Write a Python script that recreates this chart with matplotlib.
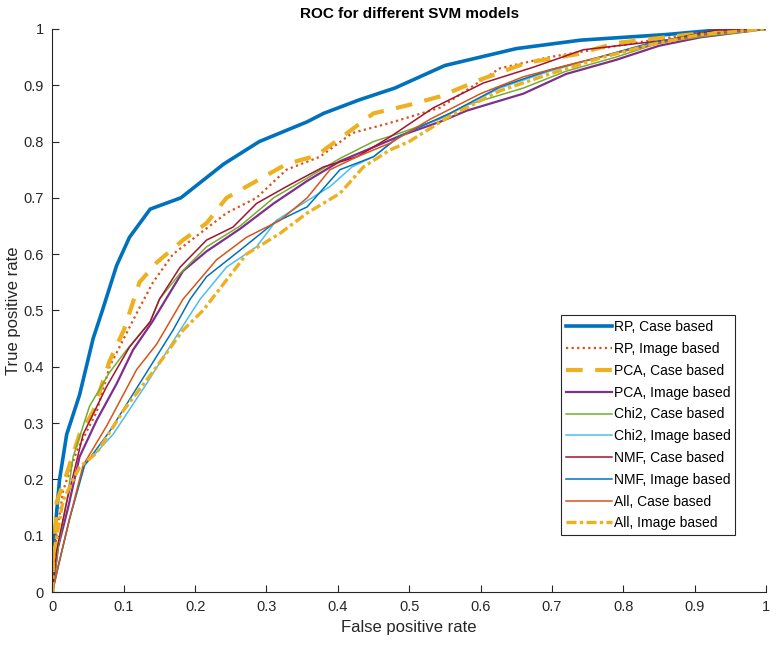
import numpy as np
import matplotlib
matplotlib.use('Agg')
from matplotlib import pyplot as plt

plt.rcParams['font.family'] = ['Liberation Sans', 'DejaVu Sans']

# ROC points (x = FPR, y = TPR)
rp_case_x = [0, 0.003, 0.01, 0.02, 0.038, 0.057, 0.07, 0.09, 0.108, 0.137, 0.18, 0.2, 0.24, 0.29, 0.357, 0.38, 0.43, 0.48, 0.55, 0.65, 0.74, 0.86, 0.95, 1.0]
rp_case_y = [0, 0.1, 0.2, 0.28, 0.35, 0.45, 0.5, 0.58, 0.63, 0.68, 0.70, 0.72, 0.76, 0.80, 0.835, 0.85, 0.874, 0.895, 0.935, 0.965, 0.98, 0.99, 1.0, 1.0]

rp_img_x = [0, 0.003, 0.015, 0.034, 0.062, 0.08, 0.1, 0.12, 0.141, 0.169, 0.207, 0.244, 0.286, 0.328, 0.375, 0.42, 0.473, 0.543, 0.627, 0.697, 0.815, 0.908, 1]
rp_img_y = [0, 0.075, 0.18, 0.25, 0.32, 0.40, 0.45, 0.50, 0.55, 0.60, 0.637, 0.673, 0.70, 0.75, 0.773, 0.815, 0.833, 0.86, 0.93, 0.95, 0.975, 0.993, 1]

pca_case_x = [0, 0.006, 0.02, 0.038, 0.057, 0.08, 0.1, 0.122, 0.146, 0.183, 0.216, 0.244, 0.286, 0.328, 0.37, 0.413, 0.45, 0.5, 0.543, 0.6, 0.665, 0.735, 0.79, 0.894, 1]
pca_case_y = [0, 0.16, 0.21, 0.28, 0.32, 0.41, 0.465, 0.55, 0.585, 0.625, 0.655, 0.70, 0.73, 0.76, 0.775, 0.815, 0.85, 0.865, 0.88, 0.91, 0.94, 0.955, 0.975, 0.99, 1]

pca_img_x = [0, 0.008, 0.022, 0.038, 0.062, 0.09, 0.113, 0.14, 0.183, 0.216, 0.263, 0.31, 0.357, 0.403, 0.45, 0.487, 0.543, 0.581, 0.66, 0.72, 0.79, 0.85, 0.908, 1]
pca_img_y = [0, 0.08, 0.15, 0.24, 0.305, 0.37, 0.43, 0.48, 0.57, 0.605, 0.645, 0.69, 0.73, 0.765, 0.79, 0.81, 0.835, 0.855, 0.885, 0.92, 0.945, 0.97, 0.985, 1]

chi2_case_x = [0, 0.008, 0.02, 0.029, 0.052, 0.08, 0.104, 0.137, 0.15, 0.179, 0.216, 0.263, 0.31, 0.357, 0.403, 0.45, 0.487, 0.543, 0.581, 0.66, 0.72, 0.79, 0.85, 0.908, 1]
chi2_case_y = [0, 0.08, 0.16, 0.24, 0.33, 0.39, 0.43, 0.48, 0.52, 0.566, 0.613, 0.65, 0.70, 0.735, 0.77, 0.80, 0.815, 0.84, 0.865, 0.895, 0.925, 0.95, 0.975, 0.986, 1]

chi2_img_x = [0, 0.008, 0.024, 0.045, 0.085, 0.132, 0.179, 0.207, 0.244, 0.286, 0.314, 0.351, 0.389, 0.42, 0.45, 0.487, 0.557, 0.627, 0.697, 0.767, 0.838, 0.908, 1]
chi2_img_y = [0, 0.045, 0.13, 0.225, 0.28, 0.37, 0.465, 0.52, 0.577, 0.613, 0.66, 0.69, 0.72, 0.755, 0.773, 0.81, 0.85, 0.895, 0.925, 0.95, 0.975, 0.99, 1]

nmf_case_x = [0, 0.006, 0.02, 0.043, 0.076, 0.108, 0.137, 0.15, 0.179, 0.216, 0.253, 0.286, 0.328, 0.38, 0.427, 0.473, 0.534, 0.604, 0.674, 0.744, 0.86, 0.93, 1]
nmf_case_y = [0, 0.075, 0.16, 0.28, 0.365, 0.435, 0.48, 0.52, 0.577, 0.625, 0.648, 0.69, 0.72, 0.755, 0.773, 0.808, 0.86, 0.904, 0.932, 0.963, 0.98, 0.998, 1]

nmf_img_x = [0, 0.008, 0.024, 0.045, 0.08, 0.127, 0.169, 0.193, 0.216, 0.263, 0.31, 0.357, 0.403, 0.45, 0.487, 0.557, 0.627, 0.697, 0.767, 0.838, 0.908, 1]
nmf_img_y = [0, 0.045, 0.13, 0.225, 0.285, 0.38, 0.465, 0.52, 0.56, 0.607, 0.655, 0.684, 0.75, 0.773, 0.81, 0.85, 0.897, 0.927, 0.95, 0.975, 0.99, 1]

all_case_x = [0, 0.008, 0.024, 0.043, 0.076, 0.118, 0.146, 0.183, 0.23, 0.272, 0.319, 0.357, 0.389, 0.427, 0.473, 0.53, 0.6, 0.66, 0.72, 0.8, 0.87, 0.93, 1]
all_case_y = [0, 0.045, 0.13, 0.225, 0.295, 0.395, 0.44, 0.52, 0.59, 0.63, 0.66, 0.70, 0.75, 0.773, 0.797, 0.84, 0.885, 0.915, 0.935, 0.96, 0.98, 0.993, 1]

all_img_x = [0, 0.002, 0.015, 0.038, 0.062, 0.1, 0.146, 0.183, 0.211, 0.272, 0.319, 0.357, 0.403, 0.436, 0.473, 0.5, 0.557, 0.627, 0.697, 0.767, 0.838, 0.908, 1]
all_img_y = [0, 0.07, 0.163, 0.222, 0.247, 0.323, 0.40, 0.465, 0.50, 0.60, 0.637, 0.673, 0.708, 0.755, 0.785, 0.80, 0.845, 0.89, 0.92, 0.948, 0.972, 0.99, 1]

tick_vals = [0, 0.1, 0.2, 0.3, 0.4, 0.5, 0.6, 0.7, 0.8, 0.9, 1]
tick_labels = ['0', '0.1', '0.2', '0.3', '0.4', '0.5', '0.6', '0.7', '0.8', '0.9', '1']

# matlab default colours
azul = (0, 0.447, 0.741)
rojo = (0.85, 0.325, 0.098)
amarillo = (0.929, 0.694, 0.125)
morado = (0.494, 0.184, 0.556)
verde = (0.466, 0.674, 0.188)
celeste = (0.301, 0.745, 0.933)
granate = (0.635, 0.078, 0.184)
gris = (0.15, 0.15, 0.15)

fig = plt.figure(figsize=(7.71, 6.51), dpi=100)
ax = fig.add_axes([0.068, 0.0906, 0.9255, 0.865])

ax.plot(rp_case_x, rp_case_y, color=azul, lw=2.6, label='RP, Case based')
ax.plot(rp_img_x, rp_img_y, color=rojo, lw=1.6, ls=(0, (1, 1.5)), label='RP, Image based')
ax.plot(pca_case_x, pca_case_y, color=amarillo, lw=3, ls=(0, (4, 3)), label='PCA, Case based')
ax.plot(pca_img_x, pca_img_y, color=morado, lw=1.6, label='PCA, Image based')
ax.plot(chi2_case_x, chi2_case_y, color=verde, lw=1.1, label='Chi2, Case based')
ax.plot(chi2_img_x, chi2_img_y, color=celeste, lw=1.1, label='Chi2, Image based')
ax.plot(nmf_case_x, nmf_case_y, color=granate, lw=1.1, label='NMF, Case based')
ax.plot(nmf_img_x, nmf_img_y, color=azul, lw=1.1, label='NMF, Image based')
ax.plot(all_case_x, all_case_y, color=rojo, lw=1.1, label='All, Case based')
ax.plot(all_img_x, all_img_y, color=amarillo, lw=2.4, ls=(0, (3, 1, 1, 1)), label='All, Image based')

ax.set_xlim(0, 1)
ax.set_ylim(0, 1)
ax.set_xticks(tick_vals)
ax.set_xticklabels(tick_labels)
ax.set_yticks(tick_vals)
ax.set_yticklabels(tick_labels)
ax.tick_params(direction='in', length=5, width=0.8, colors=gris, labelsize=10.5, pad=6)

for lado in ['top', 'right']:
    ax.spines[lado].set_visible(False)
for lado in ['left', 'bottom']:
    ax.spines[lado].set_color(gris)
    ax.spines[lado].set_linewidth(0.8)

ax.set_title('ROC for different SVM models', fontsize=11, fontweight='bold', color='black', pad=8)
ax.set_xlabel('False positive rate', fontsize=12, color=gris, labelpad=4)
ax.set_ylabel('True positive rate', fontsize=12, color=gris, labelpad=2)

ley = ax.legend(loc='lower right', bbox_to_anchor=(0.957, 0.101), fontsize=10, handlelength=3.3,
                handletextpad=0.15, labelspacing=0.56, borderpad=0.35, borderaxespad=0,
                fancybox=False, framealpha=1, edgecolor=gris)
ley.get_frame().set_linewidth(0.8)

fig.savefig('out.png', dpi=100)
